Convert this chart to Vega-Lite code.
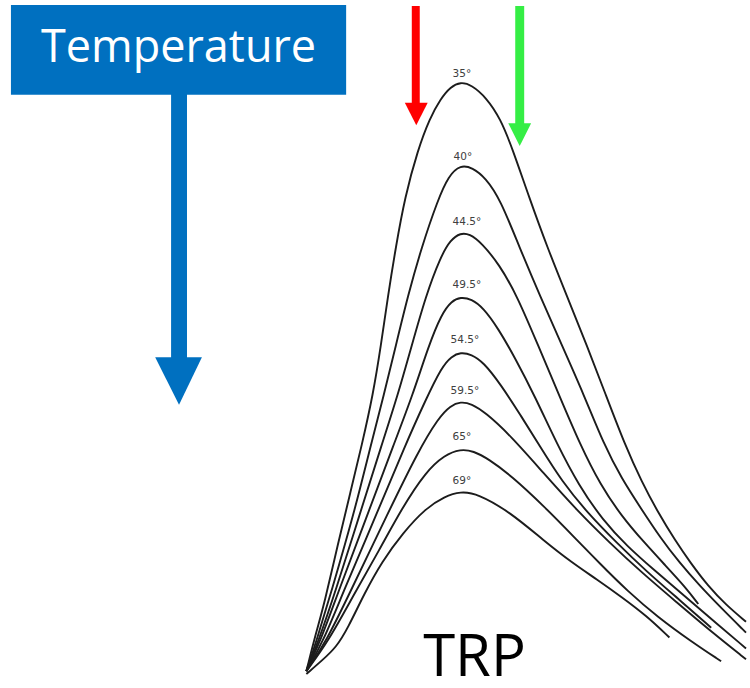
{
  "$schema": "https://vega.github.io/schema/vega-lite/v6.json",
  "width": 750,
  "height": 688,
  "autosize": {"type": "fit", "contains": "padding"},
  "padding": 0,
  "background": "white",
  "config": {"view": {"stroke": null}},
  "datasets": {
    "rects": [
      {"arrow": "temperature", "x": 11, "x2": 348, "y": 5, "y2": 96},
      {"arrow": "temperature", "x": 172, "x2": 188, "y": 95, "y2": 363},
      {"arrow": "left", "x": 414, "x2": 422, "y": 6, "y2": 105},
      {"arrow": "right", "x": 518, "x2": 527, "y": 6, "y2": 126}
    ],
    "heads": [
      {"arrow": "temperature", "x": 156, "y": 362, "y2": 362},
      {"arrow": "temperature", "x": 180, "y": 362, "y2": 410},
      {"arrow": "temperature", "x": 203, "y": 362, "y2": 362},
      {"arrow": "left", "x": 407, "y": 104, "y2": 104},
      {"arrow": "left", "x": 418.5, "y": 104, "y2": 127},
      {"arrow": "left", "x": 430, "y": 104, "y2": 104},
      {"arrow": "right", "x": 511, "y": 125, "y2": 125},
      {"arrow": "right", "x": 522.5, "y": 125, "y2": 148},
      {"arrow": "right", "x": 534, "y": 125, "y2": 125}
    ],
    "curves": [
      {"t": "35", "x": 308, "y": 680}, {"t": "35", "x": 318, "y": 640}, {"t": "35", "x": 326, "y": 612}, {"t": "35", "x": 340, "y": 550}, {"t": "35", "x": 352, "y": 500}, {"t": "35", "x": 364, "y": 450}, {"t": "35", "x": 375, "y": 400}, {"t": "35", "x": 383, "y": 350}, {"t": "35", "x": 390, "y": 300}, {"t": "35", "x": 398, "y": 250}, {"t": "35", "x": 407, "y": 200}, {"t": "35", "x": 420, "y": 152}, {"t": "35", "x": 432, "y": 120}, {"t": "35", "x": 443, "y": 100}, {"t": "35", "x": 453, "y": 88}, {"t": "35", "x": 463, "y": 83}, {"t": "35", "x": 474, "y": 86}, {"t": "35", "x": 489, "y": 99}, {"t": "35", "x": 503, "y": 120}, {"t": "35", "x": 515, "y": 150}, {"t": "35", "x": 532, "y": 200}, {"t": "35", "x": 550, "y": 250}, {"t": "35", "x": 570, "y": 300}, {"t": "35", "x": 590, "y": 350}, {"t": "35", "x": 609, "y": 400}, {"t": "35", "x": 628, "y": 450}, {"t": "35", "x": 645, "y": 488}, {"t": "35", "x": 662, "y": 520}, {"t": "35", "x": 679, "y": 548}, {"t": "35", "x": 694, "y": 570}, {"t": "35", "x": 712, "y": 594}, {"t": "35", "x": 730, "y": 613}, {"t": "35", "x": 750, "y": 630},
      {"t": "40", "x": 308, "y": 680}, {"t": "40", "x": 318, "y": 650}, {"t": "40", "x": 333, "y": 600}, {"t": "40", "x": 356, "y": 520}, {"t": "40", "x": 373, "y": 450}, {"t": "40", "x": 386, "y": 400}, {"t": "40", "x": 398, "y": 350}, {"t": "40", "x": 410, "y": 300}, {"t": "40", "x": 424, "y": 250}, {"t": "40", "x": 440, "y": 203}, {"t": "40", "x": 451, "y": 178}, {"t": "40", "x": 463, "y": 167}, {"t": "40", "x": 475, "y": 170}, {"t": "40", "x": 488, "y": 180}, {"t": "40", "x": 503, "y": 202}, {"t": "40", "x": 522, "y": 250}, {"t": "40", "x": 543, "y": 300}, {"t": "40", "x": 565, "y": 350}, {"t": "40", "x": 587, "y": 400}, {"t": "40", "x": 607, "y": 450}, {"t": "40", "x": 625, "y": 485}, {"t": "40", "x": 645, "y": 516}, {"t": "40", "x": 664, "y": 545}, {"t": "40", "x": 683, "y": 570}, {"t": "40", "x": 703, "y": 593}, {"t": "40", "x": 726, "y": 617}, {"t": "40", "x": 750, "y": 641},
      {"t": "44.5", "x": 308, "y": 680}, {"t": "44.5", "x": 320, "y": 650}, {"t": "44.5", "x": 337, "y": 600}, {"t": "44.5", "x": 362, "y": 520}, {"t": "44.5", "x": 384, "y": 450}, {"t": "44.5", "x": 400, "y": 400}, {"t": "44.5", "x": 414, "y": 350}, {"t": "44.5", "x": 428, "y": 300}, {"t": "44.5", "x": 443, "y": 260}, {"t": "44.5", "x": 453, "y": 243}, {"t": "44.5", "x": 463, "y": 236}, {"t": "44.5", "x": 472, "y": 237}, {"t": "44.5", "x": 484, "y": 246}, {"t": "44.5", "x": 502, "y": 268}, {"t": "44.5", "x": 520, "y": 300}, {"t": "44.5", "x": 541, "y": 350}, {"t": "44.5", "x": 562, "y": 400}, {"t": "44.5", "x": 583, "y": 450}, {"t": "44.5", "x": 604, "y": 492}, {"t": "44.5", "x": 625, "y": 523}, {"t": "44.5", "x": 647, "y": 549}, {"t": "44.5", "x": 669, "y": 573}, {"t": "44.5", "x": 690, "y": 596}, {"t": "44.5", "x": 702, "y": 612},
      {"t": "49.5", "x": 308, "y": 680}, {"t": "49.5", "x": 322, "y": 650}, {"t": "49.5", "x": 340, "y": 600}, {"t": "49.5", "x": 370, "y": 520}, {"t": "49.5", "x": 396, "y": 450}, {"t": "49.5", "x": 415, "y": 400}, {"t": "49.5", "x": 431, "y": 350}, {"t": "49.5", "x": 444, "y": 318}, {"t": "49.5", "x": 454, "y": 305}, {"t": "49.5", "x": 463, "y": 301}, {"t": "49.5", "x": 474, "y": 303}, {"t": "49.5", "x": 486, "y": 312}, {"t": "49.5", "x": 501, "y": 333}, {"t": "49.5", "x": 518, "y": 363}, {"t": "49.5", "x": 538, "y": 402}, {"t": "49.5", "x": 560, "y": 450}, {"t": "49.5", "x": 582, "y": 492}, {"t": "49.5", "x": 606, "y": 527}, {"t": "49.5", "x": 631, "y": 554}, {"t": "49.5", "x": 657, "y": 577}, {"t": "49.5", "x": 686, "y": 602}, {"t": "49.5", "x": 716, "y": 628}, {"t": "49.5", "x": 750, "y": 657},
      {"t": "54.5", "x": 308, "y": 680}, {"t": "54.5", "x": 325, "y": 650}, {"t": "54.5", "x": 345, "y": 600}, {"t": "54.5", "x": 379, "y": 520}, {"t": "54.5", "x": 407, "y": 452}, {"t": "54.5", "x": 428, "y": 405}, {"t": "54.5", "x": 444, "y": 372}, {"t": "54.5", "x": 454, "y": 361}, {"t": "54.5", "x": 463, "y": 357}, {"t": "54.5", "x": 474, "y": 359}, {"t": "54.5", "x": 486, "y": 367}, {"t": "54.5", "x": 503, "y": 389}, {"t": "54.5", "x": 523, "y": 420}, {"t": "54.5", "x": 542, "y": 451}, {"t": "54.5", "x": 565, "y": 488}, {"t": "54.5", "x": 591, "y": 520}, {"t": "54.5", "x": 620, "y": 550}, {"t": "54.5", "x": 650, "y": 579}, {"t": "54.5", "x": 681, "y": 606}, {"t": "54.5", "x": 715, "y": 636},
      {"t": "59.5", "x": 308, "y": 680}, {"t": "59.5", "x": 328, "y": 650}, {"t": "59.5", "x": 352, "y": 600}, {"t": "59.5", "x": 390, "y": 520}, {"t": "59.5", "x": 420, "y": 458}, {"t": "59.5", "x": 441, "y": 423}, {"t": "59.5", "x": 453, "y": 411}, {"t": "59.5", "x": 463, "y": 407}, {"t": "59.5", "x": 474, "y": 409}, {"t": "59.5", "x": 488, "y": 418}, {"t": "59.5", "x": 513, "y": 441}, {"t": "59.5", "x": 547, "y": 480}, {"t": "59.5", "x": 580, "y": 517}, {"t": "59.5", "x": 613, "y": 550}, {"t": "59.5", "x": 645, "y": 580}, {"t": "59.5", "x": 680, "y": 610}, {"t": "59.5", "x": 715, "y": 640}, {"t": "59.5", "x": 750, "y": 668},
      {"t": "65", "x": 308, "y": 680}, {"t": "65", "x": 330, "y": 650}, {"t": "65", "x": 356, "y": 602}, {"t": "65", "x": 381, "y": 558}, {"t": "65", "x": 404, "y": 515}, {"t": "65", "x": 428, "y": 478}, {"t": "65", "x": 447, "y": 461}, {"t": "65", "x": 463, "y": 455}, {"t": "65", "x": 476, "y": 457}, {"t": "65", "x": 491, "y": 465}, {"t": "65", "x": 514, "y": 482}, {"t": "65", "x": 547, "y": 513}, {"t": "65", "x": 579, "y": 546}, {"t": "65", "x": 603, "y": 571}, {"t": "65", "x": 631, "y": 599}, {"t": "65", "x": 661, "y": 625}, {"t": "65", "x": 695, "y": 650}, {"t": "65", "x": 725, "y": 670},
      {"t": "69", "x": 308, "y": 683}, {"t": "69", "x": 324, "y": 669}, {"t": "69", "x": 338, "y": 656}, {"t": "69", "x": 350, "y": 636}, {"t": "69", "x": 366, "y": 602}, {"t": "69", "x": 384, "y": 569}, {"t": "69", "x": 405, "y": 540}, {"t": "69", "x": 428, "y": 515}, {"t": "69", "x": 447, "y": 503}, {"t": "69", "x": 463, "y": 498}, {"t": "69", "x": 480, "y": 500}, {"t": "69", "x": 513, "y": 519}, {"t": "69", "x": 547, "y": 548}, {"t": "69", "x": 575, "y": 570}, {"t": "69", "x": 600, "y": 587}, {"t": "69", "x": 625, "y": 605}, {"t": "69", "x": 650, "y": 624}, {"t": "69", "x": 673, "y": 646}
    ],
    "labels": [
      {"label": "35°", "x": 455, "y": 75},
      {"label": "40°", "x": 456, "y": 159},
      {"label": "44.5°", "x": 455, "y": 225},
      {"label": "49.5°", "x": 455, "y": 289},
      {"label": "54.5°", "x": 453, "y": 345},
      {"label": "59.5°", "x": 453, "y": 396},
      {"label": "65°", "x": 455, "y": 443},
      {"label": "69°", "x": 455, "y": 487}
    ],
    "titles": [
      {"text": "Temperature", "x": 179.5, "y": 63}
    ],
    "bottom": [
      {"text": "TRP", "x": 477, "y": 685}
    ]
  },
  "layer": [
    {
      "data": {"name": "rects"},
      "mark": {"type": "rect"},
      "encoding": {
        "x": {"field": "x", "type": "quantitative", "scale": {"domain": [0, 750], "nice": false, "zero": false}, "axis": null},
        "x2": {"field": "x2"},
        "y": {"field": "y", "type": "quantitative", "scale": {"domain": [0, 688], "nice": false, "zero": false, "reverse": true}, "axis": null},
        "y2": {"field": "y2"},
        "color": {"field": "arrow", "type": "nominal", "scale": {"domain": ["temperature", "left", "right"], "range": ["#0070C0", "#FF0000", "#35EE45"]}, "legend": null}
      }
    },
    {
      "data": {"name": "heads"},
      "mark": {"type": "area", "opacity": 1},
      "encoding": {
        "x": {"field": "x", "type": "quantitative", "axis": null},
        "y": {"field": "y", "type": "quantitative", "axis": null},
        "y2": {"field": "y2"},
        "color": {"field": "arrow", "type": "nominal", "legend": null}
      }
    },
    {
      "data": {"name": "curves"},
      "mark": {"type": "line", "interpolate": "basis", "color": "#1c1c1c", "strokeWidth": 1.9},
      "encoding": {
        "x": {"field": "x", "type": "quantitative", "axis": null},
        "y": {"field": "y", "type": "quantitative", "axis": null},
        "detail": {"field": "t", "type": "nominal"}
      }
    },
    {
      "data": {"name": "labels"},
      "mark": {"type": "text", "align": "left", "baseline": "middle", "font": "DejaVu Sans", "fontSize": 10.5, "color": "#404040"},
      "encoding": {
        "x": {"field": "x", "type": "quantitative", "axis": null},
        "y": {"field": "y", "type": "quantitative", "axis": null},
        "text": {"field": "label", "type": "nominal"}
      }
    },
    {
      "data": {"name": "titles"},
      "mark": {"type": "text", "align": "center", "baseline": "alphabetic", "font": "Open Sans", "fontSize": 45, "color": "white"},
      "encoding": {
        "x": {"field": "x", "type": "quantitative", "axis": null},
        "y": {"field": "y", "type": "quantitative", "axis": null},
        "text": {"field": "text", "type": "nominal"}
      }
    },
    {
      "data": {"name": "bottom"},
      "mark": {"type": "text", "align": "center", "baseline": "alphabetic", "font": "Open Sans", "fontSize": 58, "color": "black"},
      "encoding": {
        "x": {"field": "x", "type": "quantitative", "axis": null},
        "y": {"field": "y", "type": "quantitative", "axis": null},
        "text": {"field": "text", "type": "nominal"}
      }
    }
  ]
}
